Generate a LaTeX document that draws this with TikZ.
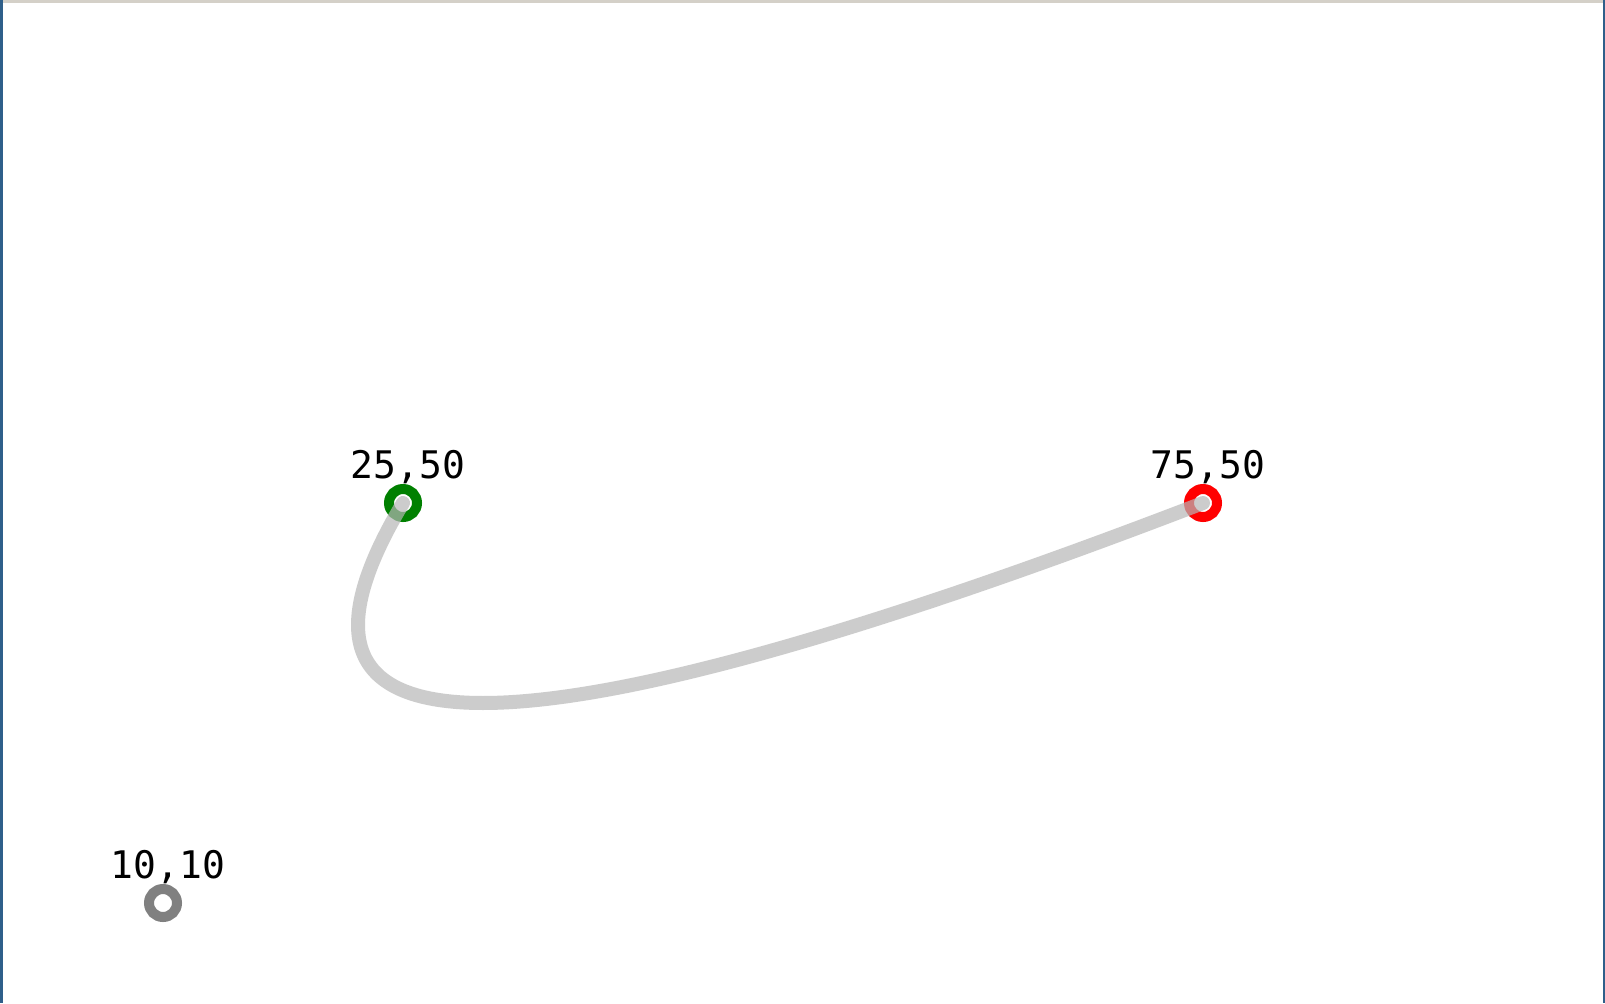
\documentclass[tikz,border=0pt]{standalone}
\usepackage{fontspec}
\setmonofont{DejaVu Sans Mono}
\usetikzlibrary{calc}
\definecolor{webgreen}{RGB}{0,128,0}
\definecolor{pathgray}{RGB}{183,183,183}
\definecolor{framebar}{RGB}{47,95,138}
\definecolor{topbar}{RGB}{212,208,200}

\begin{document}
\begin{tikzpicture}[x=8pt,y=5pt,
  ptring/.style={line width=5pt},
  ptlabel/.style={anchor=base,inner sep=0pt,font=\ttfamily\fontsize{19pt}{23pt}\selectfont}]
\useasboundingbox (-1.5pt,0) rectangle (801pt,501.5pt);
\fill[white] (-1.5pt,0) rectangle (801pt,501.5pt);
\fill[framebar] (-1.5pt,0) rectangle (0,501.5pt);
\fill[framebar] (800pt,0) rectangle (801pt,501.5pt);
\fill[topbar] (0,500pt) rectangle (800pt,501.5pt);
% the three points, each with its label
\foreach \n/\a/\b/\c in {ctrl/10/10/gray,start/25/50/webgreen,end/75/50/red}
  {\coordinate (\n) at (\a,\b);
   \draw[ptring,\c,fill=white] (\n) circle (7pt);
   \node[ptlabel] (\n-lbl) at ([shift={(2.5pt,12.5pt)}]\n) {\a,\b};}
% quadratic curve through ctrl, as a cubic
\draw[pathgray,opacity=0.7,line width=7pt,line cap=round]
  (start) .. controls ($(start)!2/3!(ctrl)$) and ($(end)!2/3!(ctrl)$) .. (end);
\end{tikzpicture}
\end{document}
